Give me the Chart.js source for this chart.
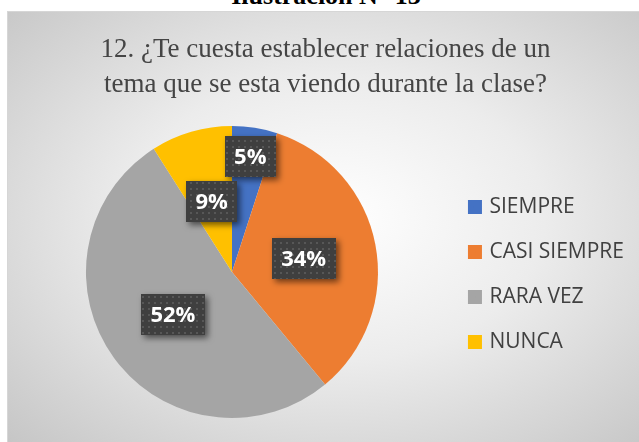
<!DOCTYPE html>
<html>
<head>
<meta charset="utf-8">
<script src="https://cdn.jsdelivr.net/npm/chart.js@4.4.1/dist/chart.umd.min.js"></script>
<style>
  body { margin: 0; background: #fff; width: 639px; height: 442px; overflow: hidden; position: relative; }
  #cap { position: absolute; left: 0; width: 652px; top: -17px; text-align: center;
         font: bold 26px "Liberation Serif"; line-height: 26px; color: #000; }
  #box { position: absolute; left: 7px; top: 11px; width: 631px; height: 430px;
         border: 1px solid #d6d6d6;
         background: radial-gradient(ellipse farthest-corner at 52% 48%, #ffffff 0%, #ececec 45%, #c6c6c6 100%); }
  canvas { display: block; }
</style>
</head>
<body>
<div id="cap">Ilustración N° 13</div>
<div id="box"><canvas id="pie" width="631" height="430"></canvas></div>
<script>
const categories = ['SIEMPRE', 'CASI SIEMPRE', 'RARA VEZ', 'NUNCA'];
const percentages = [5, 34, 52, 9];
const sliceColors = ['#4472C4', '#ED7D31', '#A5A5A5', '#FFC000'];
const titleLines = ['12. ¿Te cuesta establecer relaciones de un', 'tema que se esta viendo durante la clase?'];

// dark dotted fill used behind the percentage labels
function dotPattern(ctx) {
    const c = document.createElement('canvas');
    c.width = 6;
    c.height = 6;
    const g = c.getContext('2d');
    g.fillStyle = '#3f3f3f';
    g.fillRect(0, 0, 6, 6);
    g.fillStyle = '#575757';
    g.fillRect(2, 2, 2, 2);
    return ctx.createPattern(c, 'repeat');
}

// draw the boxed percentage labels on each slice
const boxLabels = {
    id: 'boxLabels',
    afterDatasetsDraw(chart, args, opts) {
        const ctx = chart.ctx;
        const meta = chart.getDatasetMeta(0);
        const pattern = dotPattern(ctx);
        ctx.save();
        ctx.font = 'bold 22px "Open Sans"';
        ctx.textAlign = 'center';
        ctx.textBaseline = 'middle';
        meta.data.forEach((arc, i) => {
            const p = arc.getProps(['x', 'y', 'startAngle', 'endAngle', 'outerRadius'], true);
            const mid = (p.startAngle + p.endAngle) / 2;
            const r = p.outerRadius * opts.radius[i];
            const cx = p.x + Math.cos(mid) * r;
            const cy = p.y + Math.sin(mid) * r;
            const text = chart.data.datasets[0].data[i] + '%';
            const w = ctx.measureText(text).width + 19;
            const h = 41;
            ctx.save();
            ctx.shadowColor = 'rgba(0,0,0,0.55)';
            ctx.shadowBlur = 6;
            ctx.shadowOffsetX = 3;
            ctx.shadowOffsetY = 3;
            ctx.fillStyle = pattern;
            ctx.fillRect(Math.round(cx - w / 2), Math.round(cy - h / 2), Math.round(w), h);
            ctx.restore();
            ctx.fillStyle = '#ffffff';
            ctx.fillText(text, cx, cy + 1);
        });
        ctx.restore();
    }
};

const canvas = document.getElementById('pie');

const pieChart = new Chart(canvas, {
    type: 'pie',
    data: {
        labels: categories,
        datasets: [{
            data: percentages,
            backgroundColor: sliceColors,
            borderWidth: 0
        }]
    },
    options: {
        responsive: false,
        animation: false,
        layout: { padding: { left: 9, right: 5, top: 10, bottom: 24 } },
        plugins: {
            title: {
                display: true,
                text: titleLines,
                color: '#454545',
                font: { family: 'Liberation Serif', size: 27, weight: 'normal', lineHeight: '35px' },
                padding: { top: 10.5, bottom: 23.5 }
            },
            legend: {
                position: 'right',
                fullSize: false,
                // empty title only nudges the items down a little
                title: { display: true, text: ' ', padding: 0, font: { size: 4, lineHeight: '5px' } },
                labels: {
                    color: '#404040',
                    font: { family: 'Open Sans', size: 21 },
                    boxWidth: 8,
                    boxHeight: 8,
                    padding: 24,
                    generateLabels(chart) {
                        const items = Chart.overrides.pie.plugins.legend.labels.generateLabels(chart);
                        items.forEach(it => { it.lineWidth = 6; it.strokeStyle = it.fillStyle; });
                        return items;
                    }
                }
            },
            tooltip: { enabled: false },
            boxLabels: { radius: [0.8, 0.5, 0.5, 0.5] }
        }
    },
    plugins: [boxLabels]
});
</script>
</body>
</html>
